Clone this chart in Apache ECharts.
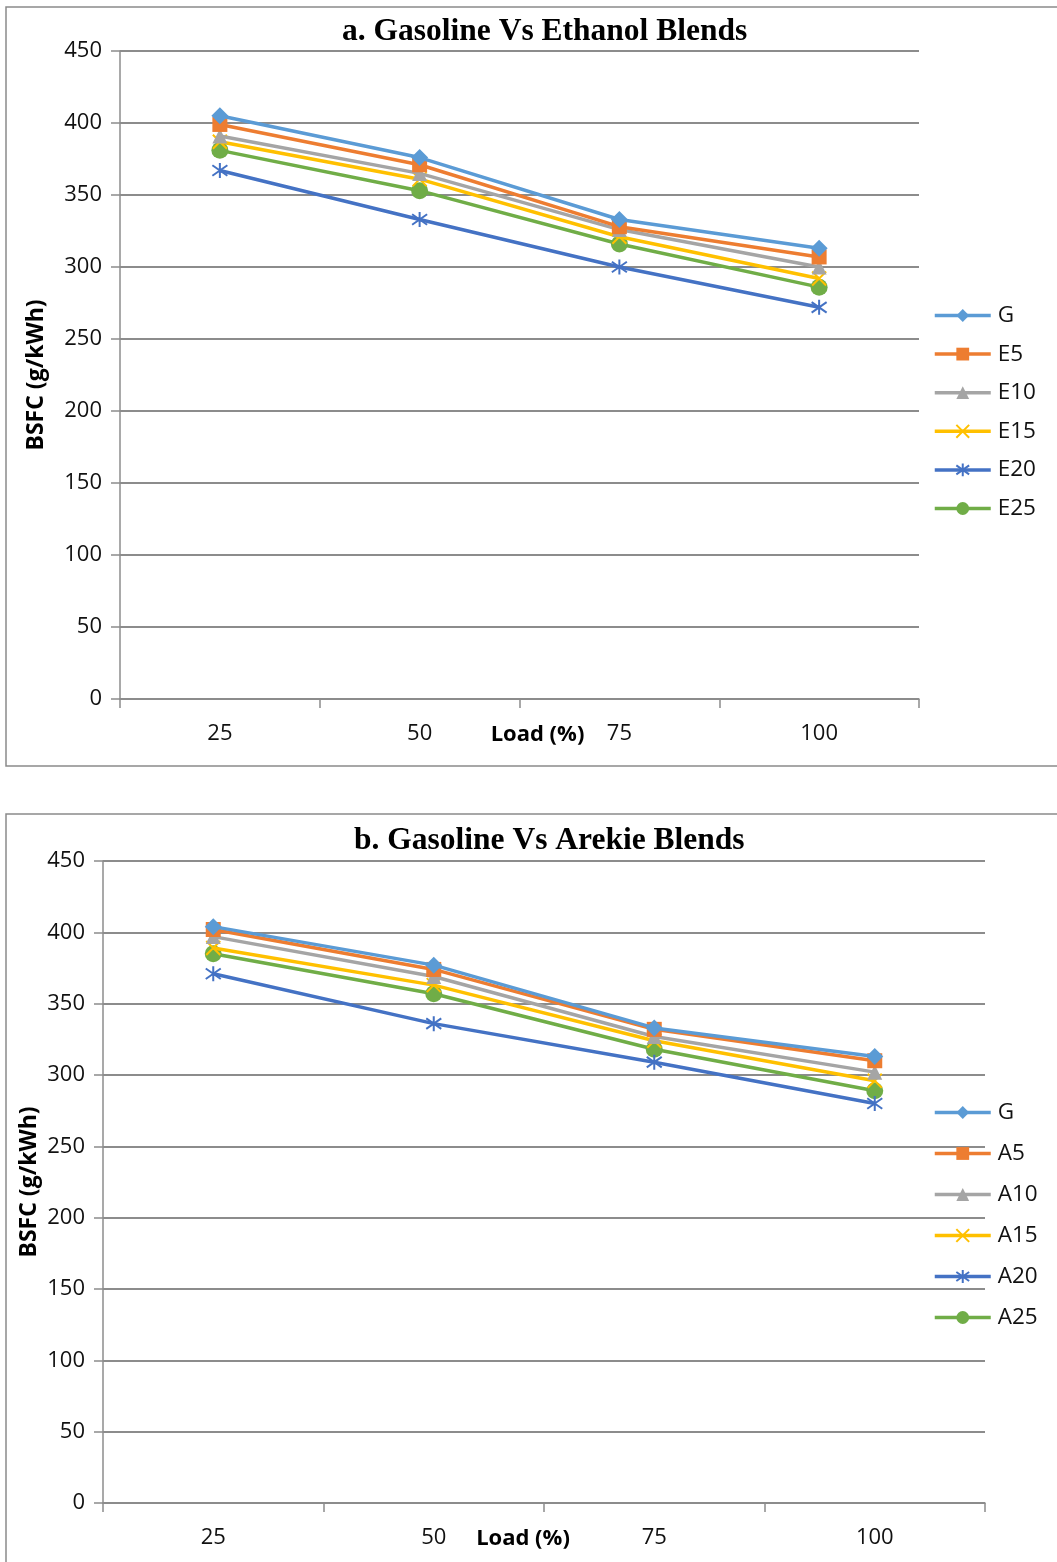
<!DOCTYPE html>
<html><head><meta charset="utf-8">
<script src="https://cdn.jsdelivr.net/npm/echarts@6/dist/echarts.min.js"></script>
<style>html,body{margin:0;padding:0;background:#fff}#c{width:1057px;height:1562px}</style>
</head><body><div id="c"></div>
<script>
const loads = ['25', '50', '75', '100'];
const yTicks = [0, 50, 100, 150, 200, 250, 300, 350, 400, 450];

const namesA = ['G', 'E5', 'E10', 'E15', 'E20', 'E25'];
const G_a   = [405, 376, 333, 313];
const E5_a  = [399, 371, 328, 307];
const E10_a = [391, 365, 326, 300];
const E15_a = [387, 361, 321, 292];
const E20_a = [367, 333, 300, 272];
const E25_a = [381, 353, 316, 286];

const namesB = ['G', 'A5', 'A10', 'A15', 'A20', 'A25'];
const G_b   = [404, 377, 333, 313];
const A5_b  = [402, 374, 332, 310];
const A10_b = [397, 369, 327, 302];
const A15_b = [389, 363, 324, 296];
const A20_b = [371, 336, 309, 280];
const A25_b = [385, 357, 318, 289];

const colors = ['#5B9BD5', '#ED7D31', '#A5A5A5', '#FFC000', '#4472C4', '#70AD47'];
const crossPath = 'path://M0,0L10,10M10,0L0,10';
const starPath = 'path://M5,0L5,10M0.7,1.5L9.3,8.5M0.7,8.5L9.3,1.5';
const symbols = ['diamond', 'rect', 'triangle', crossPath, starPath, 'circle'];
const symSizes = [17, 15, 15, 14, 15, 17];

const FONT = '"Open Sans", "Noto Sans", sans-serif';

function mkSeries(names, arrs, gi) {
  return names.map((n, i) => ({
    name: n, type: 'line', xAxisIndex: gi, yAxisIndex: gi,
    data: arrs[i], symbol: symbols[i], symbolSize: symSizes[i],
    showAllSymbol: true,
    lineStyle: { width: 3.5, color: colors[i] },
    itemStyle: (i === 3 || i === 4)
      ? { color: colors[i], borderColor: colors[i], borderWidth: 2 }
      : { color: colors[i], borderWidth: 0 },
    emphasis: { disabled: true },
    z: 10 - i
  }));
}

function xAx(gi, pad) {
  return {
    type: 'category', gridIndex: gi, data: loads, boundaryGap: true,
    axisLine: { lineStyle: { color: '#8c8c8c', width: 1.5 } },
    axisTick: { show: true, length: 9, lineStyle: { color: '#8c8c8c', width: 1.5 } },
    axisLabel: { color: '#111', fontSize: 22, fontFamily: FONT, margin: 24 },
    name: 'Load (%)', nameLocation: 'middle', nameGap: 25, nameMoveOverlap: false,
    nameTextStyle: { color: '#000', fontSize: 22, fontWeight: 'bold', fontFamily: FONT, padding: pad }
  };
}
function yAx(gi, gap) {
  return {
    type: 'value', gridIndex: gi, min: 0, max: 450, interval: 50,
    axisLine: { show: true, lineStyle: { color: '#8c8c8c', width: 1.5 } },
    axisTick: { show: true, length: 9, lineStyle: { color: '#8c8c8c', width: 1.5 } },
    axisLabel: { color: '#111', fontSize: 22, fontFamily: FONT, margin: 18 },
    splitLine: { show: true, lineStyle: { color: '#8c8c8c', width: 2 } },
    name: 'BSFC (g/kWh)', nameLocation: 'middle', nameGap: gap, nameMoveOverlap: false,
    nameTextStyle: { color: '#000', fontSize: 23, fontWeight: 'bold', fontFamily: FONT }
  };
}
function legendOf(names, top, gap) {
  return {
    data: names, orient: 'vertical', left: 933, top: top, padding: 0,
    itemWidth: 56, itemHeight: 16, itemGap: gap,
    lineStyle: { width: 3.5 },
    textStyle: { color: '#111', fontSize: 22.5, fontFamily: FONT, lineHeight: 20, padding: [0, 0, 0, 2] },
    selectedMode: false
  };
}

const chart = echarts.init(document.getElementById('c'), null, { renderer: 'canvas' });
chart.setOption({
  animation: false,
  backgroundColor: '#fff',
  title: [
    { text: 'a. Gasoline Vs Ethanol Blends', left: 342, top: 16, padding: 0,
      textStyle: { fontFamily: '"Liberation Serif", "Times New Roman", serif', fontSize: 31.5, fontWeight: 'bold', color: '#000' } },
    { text: 'b. Gasoline Vs Arekie Blends', left: 354, top: 825, padding: 0,
      textStyle: { fontFamily: '"Liberation Serif", "Times New Roman", serif', fontSize: 31.5, fontWeight: 'bold', color: '#000' } }
  ],
  legend: [
    legendOf(namesA, 304, 15.6),
    legendOf(namesB, 1101, 18)
  ],
  grid: [
    { left: 120, top: 51, width: 799, height: 648 },
    { left: 103, top: 861, width: 882, height: 642 }
  ],
  xAxis: [xAx(0, [0, 0, 0, 36]), xAx(1, [0, 42, 0, 0])],
  yAxis: [yAx(0, 72), yAx(1, 62)],
  graphic: [
    { type: 'rect', shape: { x: 6, y: 7, width: 1100, height: 759 },
      style: { fill: null, stroke: '#8a8a8a', lineWidth: 1.5 }, silent: true, z: -10 },
    { type: 'rect', shape: { x: 6, y: 814, width: 1100, height: 800 },
      style: { fill: null, stroke: '#8a8a8a', lineWidth: 1.5 }, silent: true, z: -10 }
  ],
  series: [].concat(
    mkSeries(namesA, [G_a, E5_a, E10_a, E15_a, E20_a, E25_a], 0),
    mkSeries(namesB, [G_b, A5_b, A10_b, A15_b, A20_b, A25_b], 1)
  )
});
</script></body></html>
